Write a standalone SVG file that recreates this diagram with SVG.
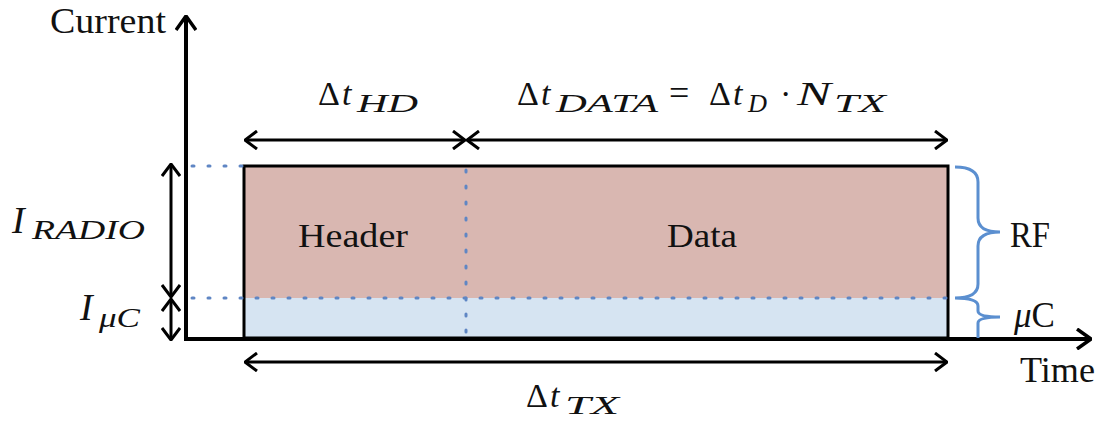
<svg xmlns="http://www.w3.org/2000/svg" width="1105" height="422" viewBox="0 0 1105 422" font-family="'Liberation Serif', 'DejaVu Serif', serif">
<style>
text{fill:#111}
.m{font-style:italic}
.up{font-style:normal}
.ax{stroke:#000;stroke-width:4;fill:none}
.arr{stroke:#000;stroke-width:3;fill:none;marker-start:url(#ah);marker-end:url(#ah)}
.dot{stroke:#5f86c4;stroke-width:3;stroke-dasharray:2 14;stroke-linecap:round;fill:none}
.brace{stroke:#5b8fd0;stroke-width:3;fill:none}
</style>
<defs>
<marker id="ah" viewBox="0 0 14 20" refX="13" refY="10" markerWidth="14" markerHeight="20" markerUnits="userSpaceOnUse" orient="auto-start-reverse">
<path d="M1,1 L13,10 L1,19" stroke="#000" stroke-width="3" fill="none"/>
</marker>
<marker id="axh" viewBox="0 0 16 22" refX="15" refY="11" markerWidth="16" markerHeight="22" markerUnits="userSpaceOnUse" orient="auto">
<path d="M1,1 L15,11 L1,21" stroke="#000" stroke-width="3.5" fill="none"/>
</marker>
</defs>
<rect width="1105" height="422" fill="#fff"/>

<g id="bar">
<rect x="244" y="166" width="704" height="132" fill="#d9b7b1"/>
<rect x="244" y="298" width="704" height="40" fill="#d6e4f2"/>
<rect x="244" y="166" width="704" height="172" fill="none" stroke="#000" stroke-width="3"/>
<text font-family="Liberation Serif" x="298" y="247" font-size="34" textLength="110" lengthAdjust="spacingAndGlyphs">Header</text>
<text font-family="Liberation Serif" x="667" y="247" font-size="34" textLength="70" lengthAdjust="spacingAndGlyphs">Data</text>
</g>

<g id="grid">
<path class="dot" d="M192,166 H244"/>
<path class="dot" d="M192,298 H948"/>
<path class="dot" d="M466,170 V338"/>
</g>

<g id="axes">
<path class="ax" d="M186,341 V16" marker-end="url(#axh)"/>
<path class="ax" d="M184,339 H1091" marker-end="url(#axh)"/>
<text font-family="Liberation Serif" x="50" y="33" font-size="35" textLength="116" lengthAdjust="spacingAndGlyphs">Current</text>
<text font-family="Liberation Serif" x="1020" y="382" font-size="35" textLength="75" lengthAdjust="spacingAndGlyphs">Time</text>
</g>

<g id="connectors">
<path class="arr" d="M245,140 H465"/>
<path class="arr" d="M467,140 H947"/>
<path class="arr" d="M245,362 H947"/>
<path class="arr" d="M171,164 V297"/>
<path class="arr" d="M171,299 V340"/>
</g>

<g id="braces">
<path class="brace" d="M955,167 Q978,167 978,182 V218 Q978,232 1000,232 Q978,232 978,246 V284 Q978,298 955,298 Q978,298 978,306 V311 Q978,317 1000,317 Q978,317 978,323 V338"/>
<text font-family="Liberation Serif" x="1010" y="247" font-size="35" textLength="40" lengthAdjust="spacingAndGlyphs">RF</text>
<text font-family="Liberation Serif" class="m" x="1014" y="327" font-size="35">μ<tspan class="up">C</tspan></text>
</g>

<g id="labels">
<text font-family="Liberation Serif" class="m" font-size="34" y="105"><tspan class="up" x="318">Δ</tspan><tspan x="342">t</tspan><tspan x="357" dy="7" font-size="25" textLength="61" lengthAdjust="spacingAndGlyphs">HD</tspan></text>
<text font-family="Liberation Serif" class="m" font-size="34" y="105"><tspan class="up" x="517">Δ</tspan><tspan x="541">t</tspan><tspan x="556" dy="7" font-size="25" textLength="102" lengthAdjust="spacingAndGlyphs">DATA</tspan><tspan class="up" x="669" dy="-7" font-size="36">=</tspan><tspan class="up" x="709">Δ</tspan><tspan x="733">t</tspan><tspan x="748" dy="7" font-size="25" textLength="19" lengthAdjust="spacingAndGlyphs">D</tspan><tspan class="up" x="780" dy="-7">·</tspan><tspan x="797" textLength="34" lengthAdjust="spacingAndGlyphs">N</tspan><tspan x="834" dy="7" font-size="25" textLength="52" lengthAdjust="spacingAndGlyphs">TX</tspan></text>
<text font-family="Liberation Serif" class="m" font-size="34" y="407"><tspan class="up" x="526">Δ</tspan><tspan x="550">t</tspan><tspan x="565" dy="7" font-size="25" textLength="54" lengthAdjust="spacingAndGlyphs">TX</tspan></text>
<text font-family="Liberation Serif" class="m" font-size="38" y="233"><tspan x="12">I</tspan><tspan x="32" dy="6" font-size="27" textLength="113" lengthAdjust="spacingAndGlyphs">RADIO</tspan></text>
<text font-family="Liberation Serif" class="m" font-size="38" y="320"><tspan x="80">I</tspan><tspan x="99" dy="7" font-size="27" textLength="41" lengthAdjust="spacingAndGlyphs">μC</tspan></text>
</g>
</svg>
